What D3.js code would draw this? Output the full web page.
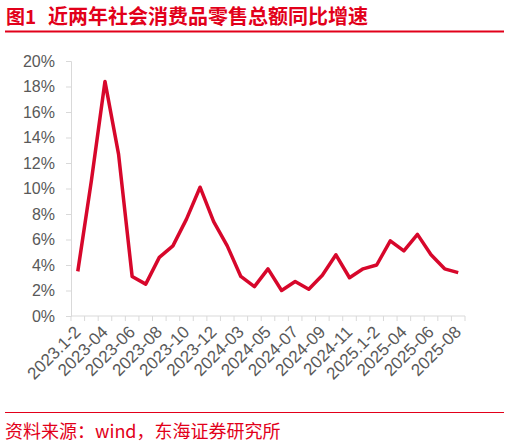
<!DOCTYPE html>
<html>
<head>
<meta charset="utf-8">
<script src="https://cdn.jsdelivr.net/npm/d3@7"></script>
<style>
  body { margin: 0; background: #fff; }
  svg { display: block; }
</style>
</head>
<body>
<svg id="chart"></svg>
<script>
// months in the series (every other one is labelled)
const months = [
  "2023.1-2", "2023-03", "2023-04", "2023-05", "2023-06", "2023-07", "2023-08",
  "2023-09", "2023-10", "2023-11", "2023-12",
  "2024.1-2", "2024-03", "2024-04", "2024-05", "2024-06", "2024-07", "2024-08",
  "2024-09", "2024-10", "2024-11", "2024-12",
  "2025.1-2", "2025-03", "2025-04", "2025-05", "2025-06", "2025-07", "2025-08"
];
// retail sales yoy growth, %
const growth = [
  3.5, 10.6, 18.4, 12.7, 3.1, 2.5, 4.6, 5.5, 7.6, 10.1, 7.4,
  5.5, 3.1, 2.3, 3.7, 2.0, 2.7, 2.1, 3.2, 4.8, 3.0, 3.7,
  4.0, 5.9, 5.1, 6.4, 4.8, 3.7, 3.4
];
const yTicks = [0, 2, 4, 6, 8, 10, 12, 14, 16, 18, 20];

const width = 510, height = 444;
const red = "#e2001a", lineColor = "#d7072b", axisColor = "#d9d9d9", textColor = "#595959";
const latin = "'Liberation Sans', Arial, sans-serif";
const cjk = "'Noto Sans CJK SC', 'Liberation Sans', sans-serif";

const svg = d3.select("#chart")
  .attr("width", width)
  .attr("height", height);

// title + rule
svg.append("text")
  .attr("x", 6)
  .attr("y", 24)
  .attr("fill", red)
  .style("font-family", cjk)
  .style("font-size", "19px")
  .style("font-weight", "bold")
  .text("图1");
svg.append("text")
  .attr("x", 48)
  .attr("y", 24)
  .attr("fill", red)
  .style("font-family", cjk)
  .style("font-size", "20px")
  .style("font-weight", "bold")
  .text("近两年社会消费品零售总额同比增速");
svg.append("line")
  .attr("x1", 5).attr("x2", 504)
  .attr("y1", 31.5).attr("y2", 31.5)
  .attr("stroke", red)
  .attr("stroke-width", 2);

const x = d3.scaleBand()
  .domain(months)
  .range([71, 465]);

const y = d3.scaleLinear()
  .domain([0, 20])
  .range([316, 61]);

// y axis
const yAxis = svg.append("g")
  .attr("transform", "translate(71,0)")
  .call(d3.axisLeft(y).tickValues(yTicks).tickSize(5).tickPadding(11)
    .tickFormat(d => d + "%"));
yAxis.select(".domain").attr("stroke", axisColor);
yAxis.selectAll(".tick line").attr("stroke", axisColor);
yAxis.selectAll("text")
  .attr("fill", textColor)
  .style("font-family", latin)
  .style("font-size", "16px");

// x axis: ticks at band edges
const xAxis = svg.append("g")
  .attr("transform", "translate(0,316)");
xAxis.append("line")
  .attr("x1", 71).attr("x2", 465)
  .attr("stroke", axisColor);
xAxis.selectAll("line.edge")
  .data(months.concat([null]))
  .enter()
  .append("line")
  .attr("class", "edge")
  .attr("x1", (d, i) => i < months.length ? x(d) : x.range()[1])
  .attr("x2", (d, i) => i < months.length ? x(d) : x.range()[1])
  .attr("y1", 0).attr("y2", 5)
  .attr("stroke", axisColor);

xAxis.selectAll("text")
  .data(months.filter((d, i) => i % 2 === 0))
  .enter()
  .append("text")
  .attr("transform", d => `translate(${x(d) + x.bandwidth() / 2 + 4},${17}) rotate(-45)`)
  .attr("text-anchor", "end")
  .attr("fill", textColor)
  .style("font-family", latin)
  .style("font-size", "17px")
  .text(d => d);

// series line
const line = d3.line()
  .x((d, i) => x(months[i]) + x.bandwidth() / 2)
  .y(d => y(d));

svg.append("path")
  .datum(growth)
  .attr("d", line)
  .attr("fill", "none")
  .attr("stroke", lineColor)
  .attr("stroke-width", 3.5)
  .attr("stroke-linejoin", "round");

// source footer
svg.append("line")
  .attr("x1", 5).attr("x2", 504)
  .attr("y1", 412.5).attr("y2", 412.5)
  .attr("stroke", red)
  .attr("stroke-width", 1.2);
svg.append("text")
  .attr("x", 5)
  .attr("y", 438)
  .attr("fill", red)
  .style("font-family", cjk)
  .style("font-size", "18px")
  .text("资料来源：wind，东海证券研究所");
</script>
</body>
</html>
